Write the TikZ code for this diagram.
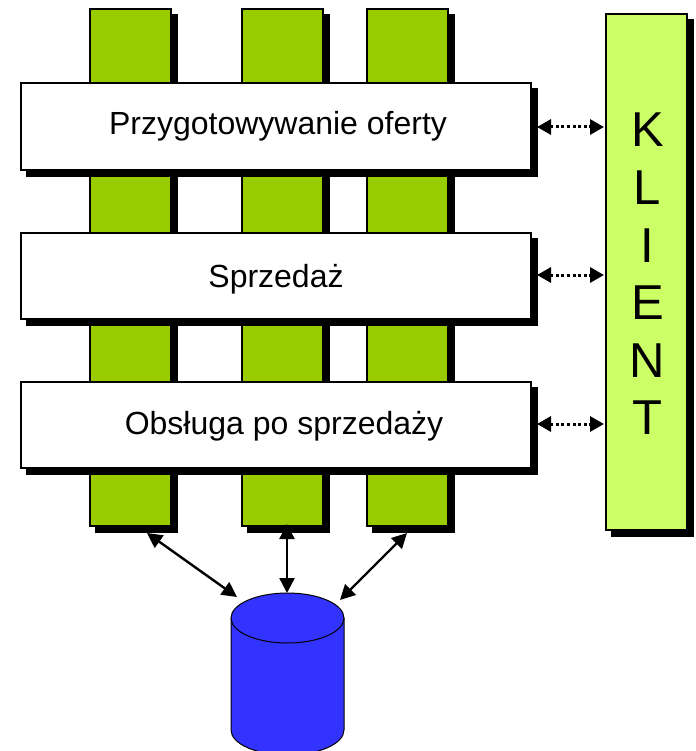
\documentclass[tikz,border=0pt]{standalone}
\usepackage{fontspec}
\setmainfont{Liberation Sans}
\usetikzlibrary{arrows.meta,shadows}
\definecolor{olivegreen}{RGB}{153,204,0}
\definecolor{limegreen}{RGB}{204,255,102}
\definecolor{dbblue}{RGB}{51,51,255}
\tikzset{
  x=1pt,y=-1pt,
  boxshadow/.style={copy shadow={shadow xshift=6pt,shadow yshift=-6pt,fill=black,draw=black}},
  boxbase/.style={rectangle,draw=black,line width=2pt,inner sep=0pt,outer sep=0pt,anchor=north west,boxshadow},
  pillar/.style={boxbase,fill=olivegreen,minimum width=81pt,minimum height=516.5pt},
  bar/.style={boxbase,fill=white,minimum width=510.5pt,minimum height=86.5pt},
  barlabel/.style={font=\fontsize{32}{38}\selectfont,text=black},
  client/.style={boxbase,fill=limegreen,minimum width=81.5pt,minimum height=516pt},
  dotlink/.style={line width=3pt,dash pattern=on 3pt off 2.6pt,{Triangle[length=14pt,width=15pt]}-{Triangle[length=14pt,width=15pt]}},
  dblink/.style={line width=2.4pt,{Triangle[length=15pt,width=15pt]}-{Triangle[length=15pt,width=15pt]}},
  dbshape/.style={draw=black,line width=1pt,fill=dbblue},
}
\begin{document}
\begin{tikzpicture}
\useasboundingbox[clip] (0,0) rectangle (695,751);
\node[pillar] (p1) at (89.5,9.5) {};
\node[pillar,minimum width=80.5pt] (p2) at (242,9.5) {};
\node[pillar] (p3) at (366.5,9.5) {};
\node[bar] (b1) at (20.5,83.5) {};
\node[bar] (b2) at (20.5,232.5) {};
\node[bar] (b3) at (20.5,381.5) {};
\node[barlabel] (t1) at (278,126.5) {Przygotowywanie oferty};
\node[barlabel] (t2) at (276,279.5) {Sprzedaż};
\node[barlabel] (t3) at (284,426.5) {Obsługa po sprzedaży};
\node[client] (k) at (605.5,14) {};
\node[font=\fontsize{49}{57.6}\selectfont,align=center,inner sep=0pt,anchor=north] (kt) at (647.5,113) {K\\L\\I\\E\\N\\T};
% database cylinder
\draw[dbshape] (231,618) -- (231,730) arc[start angle=180,end angle=0,x radius=56.5,y radius=25] -- (344,618)
  arc[start angle=0,end angle=-180,x radius=56.5,y radius=25] -- cycle;
\draw[dbshape] (231,618) arc[start angle=180,end angle=0,x radius=56.5,y radius=25];
\coordinate (l1) at (537,127);
\coordinate (r1) at (604,127);
\coordinate (l2) at (537,275);
\coordinate (r2) at (604,275);
\coordinate (l3) at (537,424);
\coordinate (r3) at (604,424);
\draw[dotlink] (l1) -- (r1);
\draw[dotlink] (l2) -- (r2);
\draw[dotlink] (l3) -- (r3);
\coordinate (a1) at (147,533);
\coordinate (a2) at (287,524);
\coordinate (a3) at (407,533);
\coordinate (d1) at (237,597);
\coordinate (d2) at (287,593);
\coordinate (d3) at (340,600);
\draw[dblink] (a1) -- (d1);
\draw[dblink] (a2) -- (d2);
\draw[dblink] (a3) -- (d3);
\end{tikzpicture}
\end{document}
